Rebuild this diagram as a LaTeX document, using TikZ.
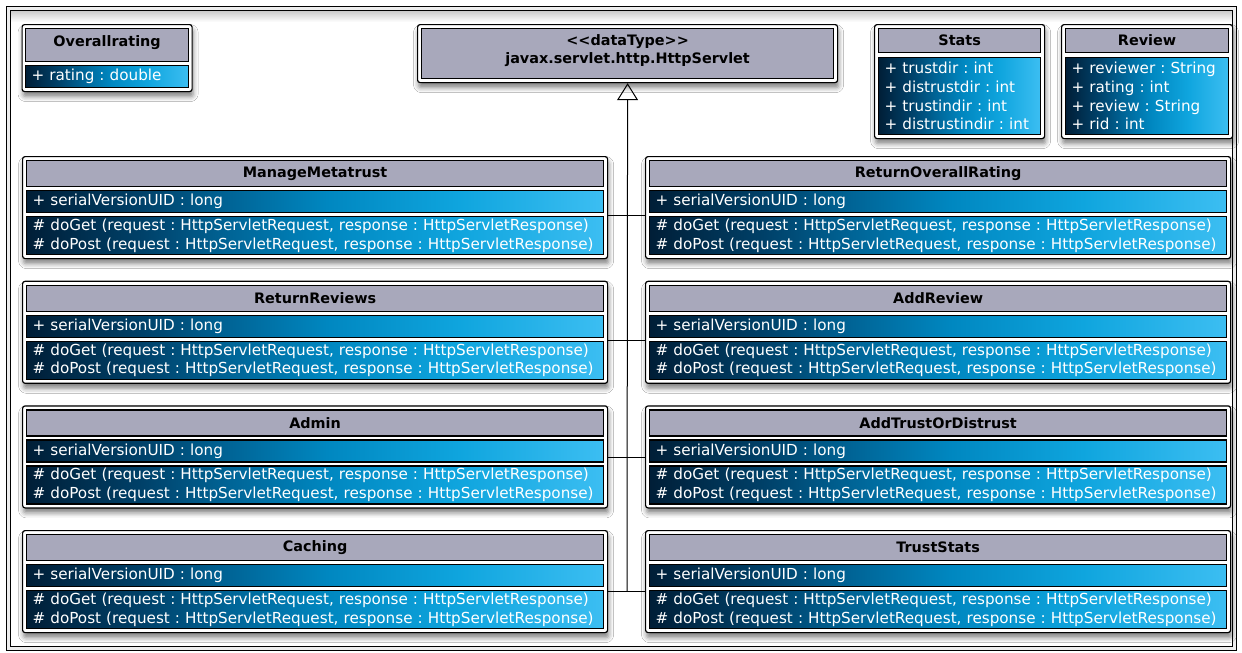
\documentclass[tikz,border=0pt]{standalone}
\usepackage{fontspec}
\setmainfont{DejaVu Sans}[Ligatures=TeXOff]
\usetikzlibrary{arrows.meta,shadows.blur}

\definecolor{hdrgray}{RGB}{168,168,187}
\definecolor{ubA}{RGB}{0,30,55}
\definecolor{ubB}{RGB}{0,65,105}
\definecolor{ubC}{RGB}{0,100,150}
\definecolor{ubD}{RGB}{0,135,192}
\definecolor{ubE}{RGB}{15,165,222}
\definecolor{ubF}{RGB}{60,190,242}
\pgfdeclarehorizontalshading{umlblue}{100bp}{color(0bp)=(ubA); color(25bp)=(ubA); color(35bp)=(ubB); color(42.5bp)=(ubC); color(51bp)=(ubD); color(62.5bp)=(ubE); color(75bp)=(ubF); color(100bp)=(ubF)}

\newcommand{\umlbodyfont}{\fontsize{15.2}{18.7}\selectfont\frenchspacing}
\newcommand{\umltitlefont}{\fontsize{14.4}{18.7}\selectfont\bfseries\frenchspacing}

\tikzset{
  umlouter/.style={draw, line width=1.2pt, fill=white, rounded corners=2.5pt,
    blur shadow={shadow xshift=1pt, shadow yshift=-5pt, shadow blur radius=5pt, shadow opacity=50},
    anchor=north west, inner sep=0pt},
  umlhead/.style={draw, line width=1.2pt, fill=hdrgray, anchor=north west, inner sep=0pt,
    font=\umltitlefont, align=center},
  umlcomp/.style={draw, line width=1.2pt, shading=umlblue, anchor=north west, inner xsep=6pt,
    inner ysep=0pt, text=white, font=\umlbodyfont, align=left},
  conn/.style={draw, line width=1pt}
}

\newcommand{\servletclass}[4]{%
  \pgfmathsetmacro{\umlIX}{#2+4}%
  \pgfmathsetmacro{\umlHY}{#3+4}%
  \pgfmathsetmacro{\umlAY}{#3+34}%
  \pgfmathsetmacro{\umlOY}{#3+60}%
  \node[umlouter, minimum width=585, minimum height=102] (#1Box) at (#2,#3) {};
  \node[umlhead, minimum width=577, minimum height=26] (#1Head) at (\umlIX,\umlHY) {#4};
  \node[umlcomp, text width=565, minimum height=22] (#1Attr) at (\umlIX,\umlAY) {\mbox{+ serialVersionUID : long}};
  \node[umlcomp, text width=565, minimum height=38] (#1Ops) at (\umlIX,\umlOY)
    {\mbox{\# doGet (request : HttpServletRequest, response : HttpServletResponse)}\\
     \mbox{\# doPost (request : HttpServletRequest, response : HttpServletResponse)}};
}

\begin{document}
\begin{tikzpicture}[x=1pt,y=-1pt]
\useasboundingbox (0,0) rectangle (1242,653);
\fill[white] (0,0) rectangle (1242,653);
% frame
\fill[gray!14] (6.5,6.5) rectangle (1236.5,650.5);
\fill[white] (10.5,10.5) rectangle (1232.5,646.5);
\shade[top color=gray!40, bottom color=white] (11,11) rectangle (1232,22);
\draw[line width=0.8pt] (6.5,6.5) rectangle (1236.5,650.5);
\draw[line width=1.3pt] (10.5,10.5) rectangle (1232.5,646.5);

% Overallrating
\node[umlouter, minimum width=170, minimum height=67] (ovBox) at (21.5,24) {};
\node[umlhead, minimum width=163, minimum height=33, text height=10pt, text depth=8pt] (ovHead) at (25,28) {Overallrating};
\node[umlcomp, text width=151, minimum height=22] (ovAttr) at (25,65) {+ rating : double};

% HttpServlet
\node[umlouter, minimum width=420, minimum height=58] (svBox) at (417,24) {};
\node[umlhead, minimum width=412, minimum height=50, text depth=9pt] (svHead) at (421,28) {<<dataType>>\\javax.servlet.http.HttpServlet};

% Stats
\node[umlouter, minimum width=170, minimum height=114] (stBox) at (874,24) {};
\node[umlhead, minimum width=162, minimum height=24] (stHead) at (878,28) {Stats};
\node[umlcomp, text width=150, minimum height=77] (stAttr) at (878,57)
  {+ trustdir : int\\+ distrustdir : int\\+ trustindir : int\\+ distrustindir : int};

% Review
\node[umlouter, minimum width=171, minimum height=114] (rvBox) at (1061,24) {};
\node[umlhead, minimum width=163, minimum height=24] (rvHead) at (1065,28) {Review};
\node[umlcomp, text width=151, minimum height=77] (rvAttr) at (1065,57)
  {+ reviewer : String\\+ rating : int\\+ review : String\\+ rid : int};

% servlet classes
\servletclass{mm}{22}{156}{ManageMetatrust}
\servletclass{ro}{645}{156}{ReturnOverallRating}
\servletclass{rr}{22}{280.7}{ReturnReviews}
\servletclass{ar}{645}{280.7}{AddReview}
\servletclass{ad}{22}{405.3}{Admin}
\servletclass{at}{645}{405.3}{AddTrustOrDistrust}
\servletclass{ca}{22}{530}{Caching}
\servletclass{ts}{645}{530}{TrustStats}

% connectors
\coordinate (j1) at (627,215);
\coordinate (j2) at (627,340);
\coordinate (j3) at (627,457);
\coordinate (j4) at (627,591);
\draw[conn] (mmBox.east |- j1) -- (roBox.west |- j1);
\draw[conn] (rrBox.east |- j2) -- (arBox.west |- j2);
\draw[conn] (adBox.east |- j3) -- (atBox.west |- j3);
\draw[conn] (caBox.east |- j4) -- (tsBox.west |- j4);
\draw[conn, -{Triangle[open, width=21pt, length=17pt, line width=1pt]}] (j4) -- (svBox.south);
\end{tikzpicture}
\end{document}
